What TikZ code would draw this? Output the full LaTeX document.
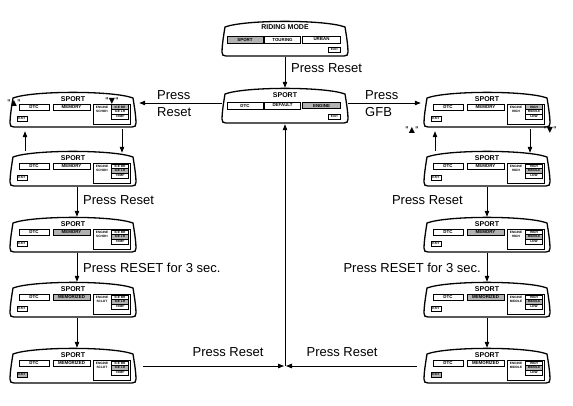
\documentclass[tikz,border=0pt]{standalone}
\usepackage{fontspec}
\setmainfont{Liberation Sans}
\newfontfamily\symfont{DejaVu Sans}
\usetikzlibrary{arrows.meta}
\tikzset{
 scr/.style={minimum width=126pt, minimum height=36pt, inner sep=0pt, draw=none},
 scrline/.style={line width=1.3pt, line join=round},
 hi/.style={draw, line width=0.9pt, fill=gray!60},
 lo/.style={draw, line width=0.45pt, fill=white},
 box/.style={inner sep=0pt, font=\fontsize{4.4}{4.8}\selectfont\bfseries},
 opt/.style={inner sep=0pt, minimum width=17pt, minimum height=4.3pt, font=\fontsize{3.2}{3.4}\selectfont\bfseries},
 arr/.style={line width=0.8pt, -{Triangle[length=6pt,width=4.5pt]}},
 lbl/.style={font=\fontsize{13}{17}\selectfont, inner sep=0pt},
 ttl/.style={font=\fontsize{7}{7.5}\selectfont\bfseries, inner sep=0pt},
 otxt/.style={font=\fontsize{3.2}{3.8}\selectfont\bfseries, inner sep=0pt},
 qlbl/.style={font=\symfont\fontsize{8}{9}\selectfont, inner sep=0pt},
}
\newcommand\scrshape{\draw[scrline] (-60,-12) .. controls (-40,-19.5) and (40,-19.5) .. (60,-12)
  .. controls (62,0) and (63,8) .. (63,13) .. controls (63,16) and (62,17) .. (59,17)
  -- (-59,17) .. controls (-62,17) and (-63,16) .. (-63,13)
  .. controls (-63,8) and (-62,0) .. (-60,-12) -- cycle;}
% #1 name #2 x #3 y #4 highlighted option #5 memory text #6 memory style #7 exit style #8 label line 2 #9 option set
\newcommand\colscreen[9]{%
 \node[scr] (#1) at (#2,#3) {};
 \tikzset{o1/.style=lo,o2/.style=lo,o3/.style=lo,o#4/.style=hi}%
 \begin{scope}[shift={(#2,#3)}]
  \scrshape
  \node[ttl] (#1t) at (0,-11) {SPORT};
  \node[box,lo,minimum width=30pt,minimum height=6pt] (#1d) at (-39,-3) {DTC};
  \node[box,#6,minimum width=37pt,minimum height=6pt] (#1m) at (-1.5,-3) {#5};
  \node[draw,line width=0.45pt,minimum width=37pt,minimum height=20pt,inner sep=0pt] (#1p) at (38.5,4) {};
  \node[otxt,align=center] (#1l) at (29,-0.5) {ENGINE\\#8};
  \node[opt,o1] (#1a) at (47,-3) {\csname opt A#9\endcsname};
  \node[opt,o2] (#1b) at (47,1.8) {\csname opt B#9\endcsname};
  \node[opt,o3] (#1c) at (47,6.6) {\csname opt C#9\endcsname};
  \node[box,#7,minimum width=10pt,minimum height=5pt,font=\fontsize{3.2}{3.4}\selectfont\bfseries] (#1e) at (-51,8.5) {EXIT};
 \end{scope}}
\expandafter\def\csname opt AL\endcsname{ICE BR}
\expandafter\def\csname opt BL\endcsname{ICE LR}
\expandafter\def\csname opt CL\endcsname{TEMP}
\expandafter\def\csname opt AR\endcsname{HIGH}
\expandafter\def\csname opt BR\endcsname{MIDDLE}
\expandafter\def\csname opt CR\endcsname{LOW}
\begin{document}
\begin{tikzpicture}[x=1pt,y=-1pt]
\useasboundingbox (0,0) rectangle (573,405);
% top screen
\node[scr] (top) at (285,39) {};
\begin{scope}[shift={(285,39)}]
 \scrshape
 \node[ttl] (topt) at (0,-12) {RIDING MODE};
 \node[box,hi,minimum width=36pt,minimum height=7pt] (tops) at (-40,0.5) {SPORT};
 \node[box,lo,minimum width=36pt,minimum height=7pt] (topto) at (-2.5,0.5) {TOURING};
 \node[box,lo,minimum width=38pt,minimum height=7pt] (topu) at (36.5,0.5) {URBAN};
 \node[box,lo,minimum width=12pt,minimum height=5pt,font=\fontsize{3.2}{3.4}\selectfont\bfseries] (tope) at (49.5,10.5) {EXIT};
\end{scope}
% center screen
\node[scr] (mid) at (285,106) {};
\begin{scope}[shift={(285,106)}]
 \scrshape
 \node[ttl] (midt) at (0,-11) {SPORT};
 \node[box,lo,minimum width=36pt,minimum height=6.5pt] (midd) at (-40,-0.5) {DTC};
 \node[box,lo,minimum width=36pt,minimum height=6.5pt] (middf) at (-2.5,-0.5) {DEFAULT};
 \node[box,hi,minimum width=38pt,minimum height=6.5pt] (midg) at (36.5,-0.5) {ENGINE};
 \node[box,lo,minimum width=12pt,minimum height=5pt,font=\fontsize{3.2}{3.4}\selectfont\bfseries] (mide) at (49.5,10.5) {EXIT};
\end{scope}
% left column
\colscreen{l1}{73}{110}{1}{MEMORY}{lo}{lo}{SCHOH}{L}
\colscreen{l2}{73}{169}{2}{MEMORY}{lo}{lo}{SCHOH}{L}
\colscreen{l3}{73}{235}{2}{MEMORY}{hi}{lo}{SCHOH}{L}
\colscreen{l4}{73}{300}{2}{MEMORIZED}{hi}{lo}{SCLOT}{L}
\colscreen{l5}{73}{366}{2}{MEMORIZED}{lo}{hi}{SCLOT}{L}
% right column
\colscreen{r1}{487}{110}{1}{MEMORY}{lo}{lo}{HIGH}{R}
\colscreen{r2}{487}{169}{2}{MEMORY}{lo}{lo}{HIGH}{R}
\colscreen{r3}{487}{235}{2}{MEMORY}{hi}{lo}{HIGH}{R}
\colscreen{r4}{487}{300}{2}{MEMORIZED}{hi}{lo}{MIDDLE}{R}
\colscreen{r5}{487}{366}{2}{MEMORIZED}{lo}{hi}{MIDDLE}{R}
% connectors top
\draw[arr] (top.south) -- (mid.north);
\node[lbl,anchor=west] (lt) at (291,68) {Press Reset};
\draw[arr] ([yshift=3pt]mid.west) -- ([yshift=3pt,xshift=3pt]mid.west -| l1.east);
\node[lbl,align=left,anchor=west] (ll) at (157,104) {Press\\Reset};
\draw[arr] ([yshift=3pt]mid.east) -- ([yshift=3pt,xshift=-3pt]mid.east -| r1.west);
\node[lbl,align=left,anchor=west] (lr) at (365,104) {Press\\GFB};
% left column connectors
\draw[arr] ([xshift=-48pt]l2.north) -- ([xshift=-48pt,yshift=-3pt]l1.south);
\draw[arr] ([xshift=49pt,yshift=-1pt]l1.south) -- ([xshift=49pt,yshift=-2pt]l2.north);
\node[qlbl] (qa) at (14,103) {"▲"};
\node[qlbl] (qb) at (112,101) {"▼"};
\draw[arr] ([xshift=4pt]l2.south) -- ([xshift=4pt]l3.north);
\node[lbl,anchor=west] (la) at (83,200) {Press Reset};
\draw[arr] ([xshift=4pt]l3.south) -- ([xshift=4pt]l4.north);
\node[lbl,anchor=west] (lb) at (83,268) {Press RESET for 3 sec.};
\draw[arr] ([xshift=4pt]l4.south) -- ([xshift=4pt]l5.north);
% right column connectors
\draw[arr] ([xshift=-52pt]r2.north) -- ([xshift=-52pt,yshift=-3pt]r1.south);
\draw[arr] ([xshift=43pt,yshift=-1pt]r1.south) -- ([xshift=43pt,yshift=-2pt]r2.north);
\node[qlbl] (qc) at (412,130) {"▲"};
\node[qlbl] (qd) at (550,130) {"▼"};
\draw[arr] (r2.south) -- (r3.north);
\node[lbl,anchor=east] (ra) at (463,200) {Press Reset};
\draw[arr] (r3.south) -- (r4.north);
\node[lbl,anchor=east] (rb) at (481,268) {Press RESET for 3 sec.};
\draw[arr] (r4.south) -- (r5.north);
% bottom
\coordinate (J) at (285,366);
\draw[arr] ([xshift=7pt]l5.east) -- ([xshift=-1pt]J);
\draw[arr] ([xshift=-7pt]r5.west) -- ([xshift=1pt]J);
\draw[arr] (J) -- (mid.south);
\node[lbl] (lbl5) at (228,352) {Press Reset};
\node[lbl] (rbl5) at (342,352) {Press Reset};
\end{tikzpicture}
\end{document}
